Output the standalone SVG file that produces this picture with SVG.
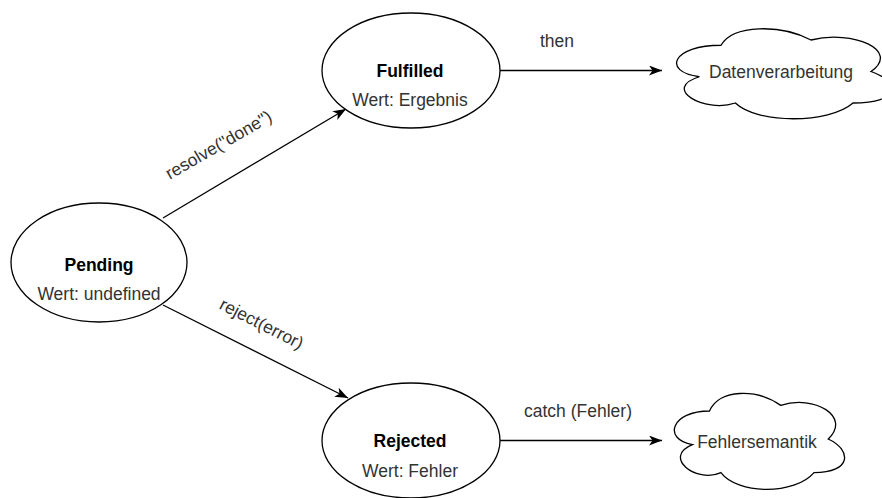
<svg xmlns="http://www.w3.org/2000/svg" width="882" height="498" viewBox="0 0 882 498">
<defs>
<style>
.shape{fill:#ffffff;stroke:#000000;stroke-width:1.3}
.edge{fill:none;stroke:#000000;stroke-width:1.3}
text{font-family:"Liberation Sans",Arial,Helvetica,sans-serif;font-size:17.5px;text-anchor:middle}
.title{font-weight:bold;fill:#000000}
.val{fill:#333333}
.lbl{fill:#333333}
</style>
<marker id="arr" viewBox="0 0 13 10" refX="13" refY="5" markerWidth="13" markerHeight="10" orient="auto" markerUnits="userSpaceOnUse">
<path d="M0,0 L13,5 L0,10 L3.5,5 Z" fill="#000000"/>
</marker>
</defs>
<rect width="882" height="498" fill="#ffffff"/>
<g id="connectors">
<line class="edge" x1="163" y1="218" x2="346" y2="109" marker-end="url(#arr)"/>
<line class="edge" x1="163" y1="305" x2="348" y2="398" marker-end="url(#arr)"/>
<line class="edge" x1="500" y1="70.5" x2="662" y2="70.5" marker-end="url(#arr)"/>
<line class="edge" x1="500" y1="440.5" x2="662" y2="440.5" marker-end="url(#arr)"/>
<text class="lbl" x="221.5" y="150" transform="rotate(-30 221.5 150)">resolve("done")</text>
<text class="lbl" x="259" y="329" transform="rotate(27 259 329)">reject(error)</text>
<text class="lbl" x="557" y="47">then</text>
<text class="lbl" x="578" y="417">catch (Fehler)</text>
</g>
<g id="pending">
<ellipse class="shape" cx="99" cy="262.5" rx="88" ry="59.5"/>
<text class="title" x="99" y="271">Pending</text>
<text class="val" x="99" y="300">Wert: undefined</text>
</g>
<g id="fulfilled">
<ellipse class="shape" cx="411" cy="70.5" rx="89" ry="57.5"/>
<text class="title" x="410" y="77">Fulfilled</text>
<text class="val" x="410" y="106">Wert: Ergebnis</text>
</g>
<g id="rejected">
<ellipse class="shape" cx="411" cy="440.5" rx="89" ry="57.5"/>
<text class="title" x="410" y="447">Rejected</text>
<text class="val" x="410" y="477">Wert: Fehler</text>
</g>
<g id="datenverarbeitung">
<path class="shape" d="M721,45.25 C673,45.25 661,71.5 699.4,76.75 C661,88.3 704.2,113.5 735.4,103 C757,124 829,124 853,103 C901,103 901,82 871,71.5 C901,50.5 853,29.5 811,40 C781,24.25 733,24.25 721,45.25 Z"/>
<text class="val" x="781" y="78">Datenverarbeitung</text>
</g>
<g id="fehlersemantik">
<path class="shape" d="M709.5,411 C671.5,411 662,439 692.4,444.6 C662,456.9 696.2,483.8 720.9,472.6 C738,495 795,495 814,472.6 C852,472.6 852,450.2 828.25,439 C852,416.6 814,394.2 780.75,405.4 C757,388.6 719,388.6 709.5,411 Z"/>
<text class="val" x="757" y="448">Fehlersemantik</text>
</g>
</svg>
